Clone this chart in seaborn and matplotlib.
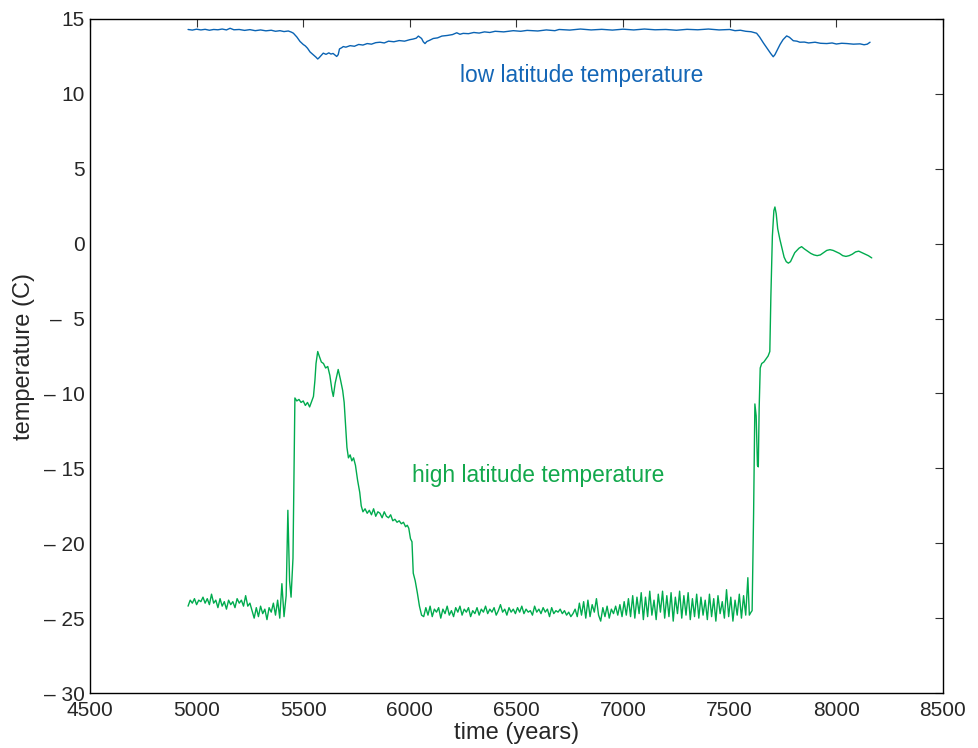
import numpy as np
import pandas as pd
import seaborn as sns
import matplotlib.pyplot as plt

# low latitude temperature
low_years = [4960, 4980, 5000, 5020, 5040, 5060, 5080, 5100, 5120, 5140, 5157, 5175,
             5200, 5225, 5250, 5275, 5300, 5325, 5350, 5370, 5391, 5410, 5430, 5445,
             5454, 5470, 5485, 5500, 5510, 5520, 5532, 5550, 5560, 5568, 5575, 5580,
             5594, 5607, 5620, 5630, 5640, 5650, 5657, 5664, 5670, 5680, 5688, 5700,
             5720, 5740, 5760, 5780, 5800, 5820, 5840, 5860, 5880, 5900, 5925, 5950,
             5975, 6000, 6015, 6030, 6040, 6055, 6063, 6071, 6080, 6090, 6110, 6130,
             6150, 6175, 6200, 6220, 6235, 6250, 6275, 6300, 6325, 6350, 6375, 6400,
             6440, 6485, 6520, 6550, 6600, 6640, 6680, 6700, 6750, 6800, 6850, 6900,
             6950, 7000, 7050, 7100, 7150, 7200, 7250, 7300, 7350, 7400, 7450, 7500,
             7525, 7550, 7575, 7600, 7626, 7640, 7658, 7670, 7680, 7692, 7704, 7712,
             7720, 7736, 7750, 7767, 7780, 7798, 7815, 7829, 7850, 7870, 7900, 7925,
             7955, 7980, 8000, 8025, 8050, 8080, 8111, 8130, 8145, 8158]
low_temp = [14.30, 14.26, 14.32, 14.27, 14.31, 14.25, 14.30, 14.28, 14.33, 14.27, 14.38, 14.28,
            14.30, 14.24, 14.29, 14.22, 14.27, 14.21, 14.25, 14.18, 14.22, 14.16, 14.20, 14.12,
            14.05, 13.80, 13.50, 13.30, 13.20, 13.05, 12.80, 12.58, 12.45, 12.33, 12.42, 12.50,
            12.72, 12.64, 12.74, 12.66, 12.70, 12.58, 12.50, 12.62, 13.00, 13.08, 13.16, 13.12,
            13.22, 13.18, 13.30, 13.26, 13.36, 13.32, 13.42, 13.45, 13.40, 13.52, 13.48, 13.56,
            13.52, 13.62, 13.66, 13.72, 13.86, 13.70, 13.48, 13.36, 13.50, 13.56, 13.70, 13.74,
            13.86, 13.90, 13.96, 14.08, 13.98, 14.04, 14.02, 14.10, 14.06, 14.14, 14.10, 14.18,
            14.14, 14.22, 14.18, 14.24, 14.20, 14.27, 14.22, 14.30, 14.26, 14.33, 14.27, 14.31,
            14.26, 14.32, 14.27, 14.33, 14.28, 14.30, 14.25, 14.31, 14.28, 14.33, 14.27, 14.30,
            14.22, 14.25, 14.18, 14.15, 14.05, 13.80, 13.40, 13.15, 12.95, 12.70, 12.48, 12.62,
            12.85, 13.30, 13.62, 13.87, 13.78, 13.55, 13.52, 13.45, 13.46, 13.40, 13.45, 13.38,
            13.36, 13.40, 13.33, 13.38, 13.36, 13.32, 13.34, 13.28, 13.32, 13.45]

# high latitude temperature
high_years = [4960, 4970, 4980, 4990, 5000, 5010, 5020, 5030, 5040, 5050, 5060, 5070,
              5080, 5090, 5100, 5110, 5120, 5130, 5140, 5150, 5160, 5170, 5180, 5190,
              5200, 5210, 5220, 5230, 5240, 5250, 5260, 5270, 5280, 5290, 5300, 5310,
              5320, 5330, 5340, 5350, 5360, 5370, 5380, 5390, 5400, 5410, 5420, 5428,
              5436, 5443, 5452, 5461, 5470, 5480, 5490, 5500, 5510, 5520, 5530, 5540,
              5548, 5555, 5560, 5568, 5575, 5585, 5595, 5605, 5615, 5625, 5635, 5641,
              5650, 5664, 5675, 5685, 5692, 5700, 5705, 5712, 5720, 5728, 5736, 5745,
              5755, 5765, 5772, 5780, 5790, 5800, 5810, 5820, 5830, 5840, 5850, 5860,
              5870, 5880, 5890, 5900, 5910, 5920, 5930, 5940, 5950, 5960, 5970, 5980,
              5988, 5995, 6003, 6010, 6016, 6025, 6035, 6045, 6055,
              6065, 6075, 6085, 6095, 6105, 6115, 6125, 6135, 6145, 6155, 6165, 6175,
              6185, 6195, 6205, 6215, 6225, 6235, 6245, 6255, 6265, 6275, 6285, 6295,
              6305, 6315, 6325, 6335, 6345, 6355, 6365, 6375, 6385, 6395, 6405, 6415,
              6425, 6435, 6445, 6455, 6465, 6475, 6485, 6495, 6505, 6515, 6525, 6535,
              6545, 6555, 6565, 6575, 6585, 6595, 6605, 6615, 6625, 6635, 6645, 6655,
              6665, 6675, 6685, 6695, 6705, 6715, 6725, 6735, 6745, 6755, 6765,
              6775, 6785, 6795, 6805, 6815, 6825, 6835, 6845, 6855, 6865, 6875, 6885,
              6895, 6905, 6915, 6925, 6935, 6945, 6955, 6965, 6975, 6985, 6995,
              7005, 7015, 7025, 7035, 7045, 7055, 7065, 7075, 7085, 7095, 7105, 7115,
              7125, 7135, 7145, 7155, 7165, 7175, 7185, 7195, 7205, 7215, 7225, 7235,
              7245, 7255, 7265, 7275, 7285, 7295, 7305, 7315, 7325, 7335, 7345, 7355,
              7365, 7375, 7385, 7395, 7405, 7415, 7425, 7435, 7445, 7455, 7465, 7475,
              7485, 7495, 7505, 7515, 7525, 7535, 7545, 7555, 7565, 7575, 7585, 7592,
              7600, 7605, 7612, 7618, 7624, 7630, 7634, 7638, 7643, 7650, 7660, 7670,
              7680, 7688, 7693, 7700, 7707, 7712, 7718, 7725, 7735, 7745, 7755, 7765,
              7775, 7785, 7795, 7805, 7815, 7825, 7837, 7850, 7865, 7880, 7895, 7910,
              7925, 7940, 7955, 7970, 7985, 8000, 8015, 8030, 8045, 8060, 8075, 8090,
              8105, 8120, 8135, 8150, 8166]
high_temp = [-24.2, -23.8, -24.0, -23.7, -24.1, -23.8, -23.9, -23.6, -24.0, -23.7, -24.1, -23.4,
             -24.0, -23.8, -24.3, -23.7, -24.2, -23.9, -24.4, -23.8, -24.1, -23.9, -24.3, -23.7,
             -24.0, -23.8, -24.2, -23.5, -24.2, -24.0, -24.5, -25.0, -24.3, -24.9, -24.2, -24.7,
             -24.4, -25.1, -24.3, -24.6, -24.0, -24.8, -23.8, -25.0, -22.7, -24.9, -23.5, -17.8,
             -22.5, -23.6, -21.0, -10.3, -10.5, -10.4, -10.6, -10.5, -10.8, -10.6, -10.9, -10.5,
             -10.2, -9.1, -8.0, -7.2, -7.5, -7.9, -8.0, -8.3, -8.2, -8.8, -9.8, -10.2,
             -9.3, -8.4, -9.1, -9.8, -10.6, -12.5, -13.6, -14.3, -14.1, -14.5, -14.3, -14.8,
             -15.8, -16.6, -17.5, -17.9, -17.7, -18.0, -17.8, -18.1, -17.7, -18.2, -17.9, -18.0,
             -18.3, -17.9, -18.2, -18.3, -18.1, -18.5, -18.4, -18.6, -18.5, -18.7, -18.6, -18.9,
             -18.8, -19.0, -19.7, -19.9, -22.0, -22.5, -23.3, -24.2, -24.8,
             -24.9, -24.3, -24.8, -24.2, -24.9, -24.4, -24.6, -24.3, -25.0, -24.4, -24.7, -24.2,
             -24.8, -24.5, -24.9, -24.3, -24.6, -24.2, -24.8, -24.4, -24.6, -24.3, -24.9, -24.5,
             -24.7, -24.3, -24.8, -24.4, -24.6, -24.2, -24.7, -24.4, -24.6, -24.3, -24.8, -24.5,
             -24.1, -24.6, -24.4, -24.8, -24.3, -24.6, -24.4, -24.7, -24.3, -24.6, -24.2, -24.7,
             -24.4, -24.6, -24.5, -24.8, -24.2, -24.6, -24.4, -24.7, -24.3, -24.6, -24.4, -24.9,
             -24.3, -24.7, -24.5, -24.6, -24.4, -24.7, -24.5, -24.8, -24.6, -24.9, -24.7,
             -24.4, -24.9, -24.0, -24.8, -23.9, -25.0, -23.8, -24.9, -24.1, -24.6, -23.7, -24.8,
             -25.2, -24.3, -24.9, -24.2, -25.0, -24.4, -24.7, -24.2, -24.8, -24.1, -24.9,
             -23.9, -24.8, -23.7, -24.9, -23.5, -25.0, -23.6, -24.7, -23.3, -25.1, -23.6, -24.9,
             -23.2, -24.8, -23.8, -25.1, -23.4, -24.6, -23.2, -25.0, -23.5, -24.9, -23.3, -25.2,
             -23.6, -24.7, -23.2, -25.0, -23.5, -24.8, -23.3, -25.1, -23.7, -24.9, -23.4, -25.0,
             -23.6, -24.8, -23.8, -25.1, -23.4, -24.9, -23.7, -25.2, -23.5, -24.7, -23.9, -25.0,
             -23.1, -24.9, -23.6, -25.2, -23.8, -24.8, -23.4, -25.0, -23.5, -24.8, -22.3, -24.8,
             -24.6, -24.5, -18.0, -10.7, -11.5, -14.8, -14.9, -11.0, -8.3, -8.0, -7.9, -7.7,
             -7.5, -7.2, -3.5, 0.5, 2.2, 2.45, 2.0, 1.0, 0.3, -0.3, -0.9, -1.2,
             -1.3, -1.2, -0.9, -0.6, -0.45, -0.3, -0.2, -0.35, -0.5, -0.65, -0.75, -0.8,
             -0.75, -0.6, -0.45, -0.4, -0.45, -0.55, -0.65, -0.8, -0.85, -0.8, -0.7, -0.55,
             -0.5, -0.6, -0.7, -0.8, -0.95]

y_ticks = [-30, -25, -20, -15, -10, -5, 0, 5, 10, 15]
y_tick_labels = ["\u2013 30", "\u2013 25", "\u2013 20", "\u2013 15", "\u2013 10", "\u2013  5", "0", "5", "10", "15"]
x_ticks = [4500, 5000, 5500, 6000, 6500, 7000, 7500, 8000, 8500]

low = pd.DataFrame({"year": low_years, "temp": low_temp})
high = pd.DataFrame({"year": high_years, "temp": high_temp})

sns.set_style("white")
plt.rcParams["font.family"] = ["Liberation Sans", "DejaVu Sans"]

fig = plt.figure(figsize=(9.79, 7.48), dpi=100)
ax = fig.add_axes([0.0919, 0.0735, 0.8713, 0.9011])

blue = "#0a63b3"
green = "#00ab4e"

sns.lineplot(x="year", y="temp", data=low, ax=ax, color=blue, linewidth=1.0, estimator=None)
sns.lineplot(x="year", y="temp", data=high, ax=ax, color=green, linewidth=1.0, estimator=None)

ax.text(6235, 11.2, "low latitude temperature", color="#1466b6", fontsize=16.4, va="center")
ax.text(6010, -15.5, "high latitude temperature", color="#12a84c", fontsize=16.4, va="center")

ax.set_xlim(4500, 8500)
ax.set_ylim(-30, 15)
ax.set_xticks(x_ticks)
ax.set_yticks(y_ticks)
ax.set_yticklabels(y_tick_labels)
ax.tick_params(direction="in", length=6, width=0.8, top=True, right=True,
               labelsize=15, color="#333333")
ax.tick_params(axis="x", pad=6)
ax.tick_params(axis="y", pad=4)
for s in ax.spines.values():
    s.set_color("black")
    s.set_linewidth(1.0)

ax.set_xlabel("time (years)", fontsize=17, labelpad=1)
ax.set_ylabel("temperature (C)", fontsize=17, labelpad=6)

fig.savefig("out.png", dpi=100)
